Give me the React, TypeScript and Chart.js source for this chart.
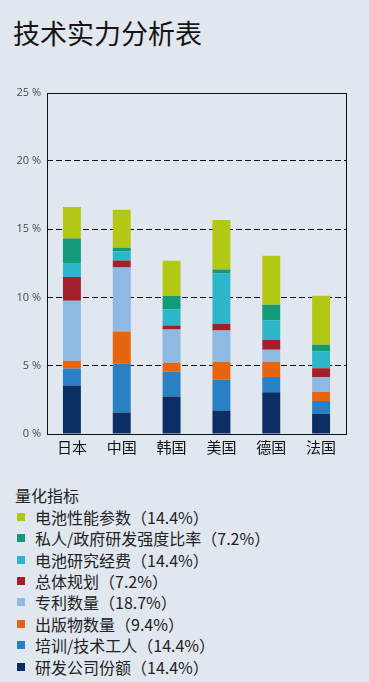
import React, { useEffect, useRef } from "react";
import { Chart, registerables } from "chart.js";

Chart.register(...registerables);

const countries = ["日本", "中国", "韩国", "美国", "德国", "法国"];

const seriesNames = [
  "研发公司份额（14.4%）",
  "培训/技术工人（14.4%）",
  "出版物数量（9.4%）",
  "专利数量（18.7%）",
  "总体规划（7.2%）",
  "电池研究经费（14.4%）",
  "私人/政府研发强度比率（7.2%）",
  "电池性能参数（14.4%）",
];

const seriesColors = [
  "#0b2e64",
  "#2a80c5",
  "#e8650f",
  "#8eb9e2",
  "#a3202a",
  "#2bb6c9",
  "#139a78",
  "#b3c814",
];

const rdShare = [3.56, 1.58, 2.75, 1.73, 3.05, 1.49];
const training = [1.24, 3.56, 1.8, 2.24, 1.12, 0.93];
const publications = [0.56, 2.36, 0.66, 1.32, 1.12, 0.66];
const patents = [4.39, 4.7, 2.44, 2.29, 0.88, 1.07];
const planning = [1.75, 0.51, 0.29, 0.49, 0.71, 0.66];
const researchFunds = [1.02, 0.68, 1.19, 3.68, 1.44, 1.24];
const rdIntensity = [1.8, 0.24, 0.97, 0.29, 1.15, 0.49];
const performance = [2.31, 2.8, 2.58, 3.63, 3.58, 3.58];

const seriesValues = [
  rdShare,
  training,
  publications,
  patents,
  planning,
  researchFunds,
  rdIntensity,
  performance,
];

const yTicks = [0, 5, 10, 15, 20, 25];

const legendOrder = [7, 6, 5, 4, 3, 2, 1, 0];

const frame = {
  id: "frame",
  afterDraw(chart: any) {
    const { ctx, chartArea } = chart;
    ctx.save();
    ctx.strokeStyle = "#111";
    ctx.lineWidth = 1;
    ctx.setLineDash([]);
    ctx.strokeRect(
      Math.round(chartArea.left) + 0.5,
      Math.round(chartArea.top) + 0.5,
      Math.round(chartArea.right - chartArea.left),
      Math.round(chartArea.bottom - chartArea.top)
    );
    ctx.restore();
  },
};

export default function App() {
  const ref = useRef<HTMLCanvasElement>(null);

  useEffect(() => {
    if (!ref.current) return;
    const chart = new Chart(ref.current, {
      type: "bar",
      data: {
        labels: countries,
        datasets: seriesValues.map((vals, i) => ({
          label: seriesNames[i],
          data: vals,
          backgroundColor: seriesColors[i],
          borderWidth: 0,
          barPercentage: 0.36,
          categoryPercentage: 1,
        })),
      },
      options: {
        animation: false,
        responsive: true,
        maintainAspectRatio: false,
        layout: { padding: { top: 12, right: 23, left: 0, bottom: 0 } },
        plugins: {
          legend: { display: false },
          tooltip: { enabled: false },
        },
        scales: {
          x: {
            stacked: true,
            grid: { display: false, drawTicks: false },
            border: { display: false },
            ticks: {
              color: "#111",
              padding: 4,
              font: { size: 15, family: "'Noto Sans CJK SC'" },
            },
            afterFit(scale: any) {
              scale.height = 26;
            },
          },
          y: {
            stacked: true,
            min: 0,
            max: 25,
            afterBuildTicks(scale: any) {
              scale.ticks = yTicks.map((v) => ({ value: v }));
            },
            grid: {
              drawTicks: false,
              color: (c: any) =>
                c.tick && (c.tick.value === 0 || c.tick.value === 25)
                  ? "rgba(0,0,0,0)"
                  : "#111",
              lineWidth: 1,
            },
            border: { display: false, dash: [6, 3] },
            ticks: {
              color: "#4a4a4a",
              padding: 6,
              font: { size: 11, family: "'Open Sans'" },
              callback: (v: any) => v + " %",
            },
            afterFit(scale: any) {
              scale.width = 47;
            },
          },
        },
      },
      plugins: [frame],
    });
    return () => chart.destroy();
  }, []);

  return (
    <div
      style={{
        position: "absolute",
        left: 0,
        top: 0,
        width: 369,
        height: 682,
        background: "#e1e7ef",
        overflow: "hidden",
        fontFamily: "'Noto Sans CJK SC', 'Noto Sans', sans-serif",
      }}
    >
      <div
        style={{
          position: "absolute",
          left: 13,
          top: 16,
          fontSize: 27,
          lineHeight: "34px",
          color: "#151515",
        }}
      >
        技术实力分析表
      </div>
      <div
        style={{ position: "absolute", left: 0, top: 80, width: 369, height: 380 }}
      >
        <canvas ref={ref} />
      </div>
      <div
        style={{
          position: "absolute",
          left: 15,
          top: 485,
          fontSize: 16,
          lineHeight: "20px",
          color: "#222",
        }}
      >
        量化指标
      </div>
      {legendOrder.map((idx, row) => (
        <div
          key={idx}
          style={{
            position: "absolute",
            left: 17,
            top: 506.7 + row * 21.4,
            height: 20,
            display: "flex",
            alignItems: "center",
            fontSize: 16,
            lineHeight: "20px",
            color: "#222",
            whiteSpace: "nowrap",
          }}
        >
          <span
            style={{
              display: "inline-block",
              width: 8,
              height: 8,
              background: seriesColors[idx],
              marginRight: 10,
            }}
          />
          <span>{seriesNames[idx]}</span>
        </div>
      ))}
    </div>
  );
}
